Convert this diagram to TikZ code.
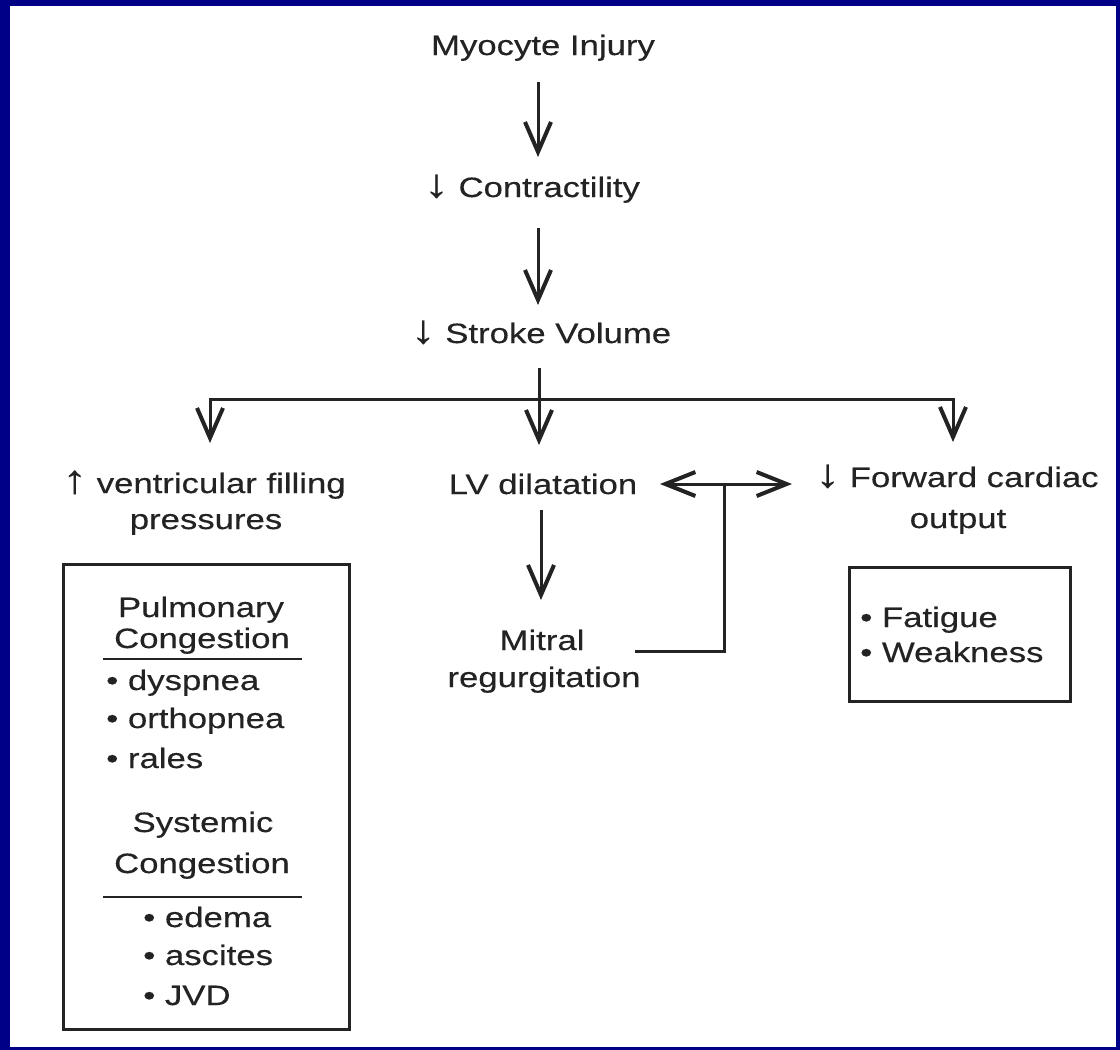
\documentclass[tikz,border=0pt]{standalone}
\usepackage{fontspec}
\setmainfont{Liberation Sans}[FakeStretch=1.24,FakeBold=0.35]
\usetikzlibrary{arrows.meta}
\definecolor{navy}{RGB}{0,0,135}
\definecolor{ink}{RGB}{35,35,35}
\newcommand{\dnarr}{{\fontsize{40}{37}\selectfont ↓}}
\newcommand{\uparr}{{\fontsize{40}{37}\selectfont ↑}}
\tikzset{
  txt/.style={anchor=base,inner sep=0pt,text=ink,font=\fontsize{28}{37}\selectfont},
  ltxt/.style={txt,anchor=base west},
  ln/.style={draw=ink,line width=3pt,line join=miter},
  arr/.style={ln,-{Straight Barb[length=30pt,width=26pt,line width=4pt]}},
  dblarr/.style={ln,{Straight Barb[length=30pt,width=24pt,line width=4pt]}-{Straight Barb[length=30pt,width=24pt,line width=4pt]}},
  boxst/.style={draw=ink,line width=2.5pt,inner sep=0pt,anchor=north west}}
\begin{document}
\begin{tikzpicture}[x=1pt,y=-1pt]
% frame
\fill[navy] (0,0) rectangle (1120,1050);
\fill[white] (10,6) rectangle (1116,1047);
% main chain
\node[txt] (myo) at (543,55) {Myocyte Injury};
\node[txt] (con) at (532,197) {\dnarr\ Contractility};
\node[txt] (sv) at (541,343) {\dnarr\ Stroke Volume};
\node[txt] (vfp1) at (204,493) {\uparr\ ventricular filling};
\node[txt] (vfp2) at (206,529) {pressures};
\node[txt] (lv) at (543,494) {LV dilatation};
\node[txt] (fco1) at (957,487) {\dnarr\ Forward cardiac};
\node[txt] (fco2) at (958,528) {output};
\node[txt] (mr1) at (542,650) {Mitral};
\node[txt] (mr2) at (544,687) {regurgitation};
% coordinates for connectors
\coordinate (myoS) at (538,82);
\coordinate (conN) at (538,157);
\coordinate (conS) at (538,228);
\coordinate (svN) at (538,305);
\coordinate (svS) at (539,368);
\coordinate (split) at (539,399);
\coordinate (lvN) at (539,445);
\coordinate (vfpN) at (210,443);
\coordinate (fcoN) at (953,442);
\coordinate (lvE) at (660,484);
\coordinate (fcoW) at (792,484);
\coordinate (join) at (724,484);
\coordinate (mrE) at (635,651);
\coordinate (lvS) at (541,510);
\coordinate (mrN) at (541,600);
% connectors
\draw[arr] (myoS) -- (conN);
\draw[arr] (conS) -- (svN);
\draw[arr] (svS) -- (lvN);
\draw[arr] (split) -| (vfpN);
\draw[arr] (split) -| (fcoN);
\draw[dblarr] (lvE) -- (fcoW);
\draw[ln] (mrE) -| (join);
\draw[arr] (lvS) -- (mrN);
% left box
\node[boxst,minimum width=286pt,minimum height=465pt] (lbox) at (62,563) {};
\node[txt] (pc1) at (201,617) {Pulmonary};
\node[txt] (pc2) at (202,648) {Congestion};
\draw[ln,line width=2.5pt] (103,659) -- (302,659);
\node[ltxt] (d1) at (106,690) {• dyspnea};
\node[ltxt] (d2) at (106,728) {• orthopnea};
\node[ltxt] (d3) at (106,768) {• rales};
\node[txt] (sc1) at (203,832) {Systemic};
\node[txt] (sc2) at (202,873) {Congestion};
\draw[ln,line width=2.5pt] (103,897) -- (302,897);
\node[ltxt] (e1) at (143,927) {• edema};
\node[ltxt] (e2) at (143,965) {• ascites};
\node[ltxt] (e3) at (143,1005) {• JVD};
% right box
\node[boxst,minimum width=221pt,minimum height=134pt] (rbox) at (848,566) {};
\node[ltxt] (f1) at (860,627) {• Fatigue};
\node[ltxt] (f2) at (860,662) {• Weakness};
\end{tikzpicture}
\end{document}
